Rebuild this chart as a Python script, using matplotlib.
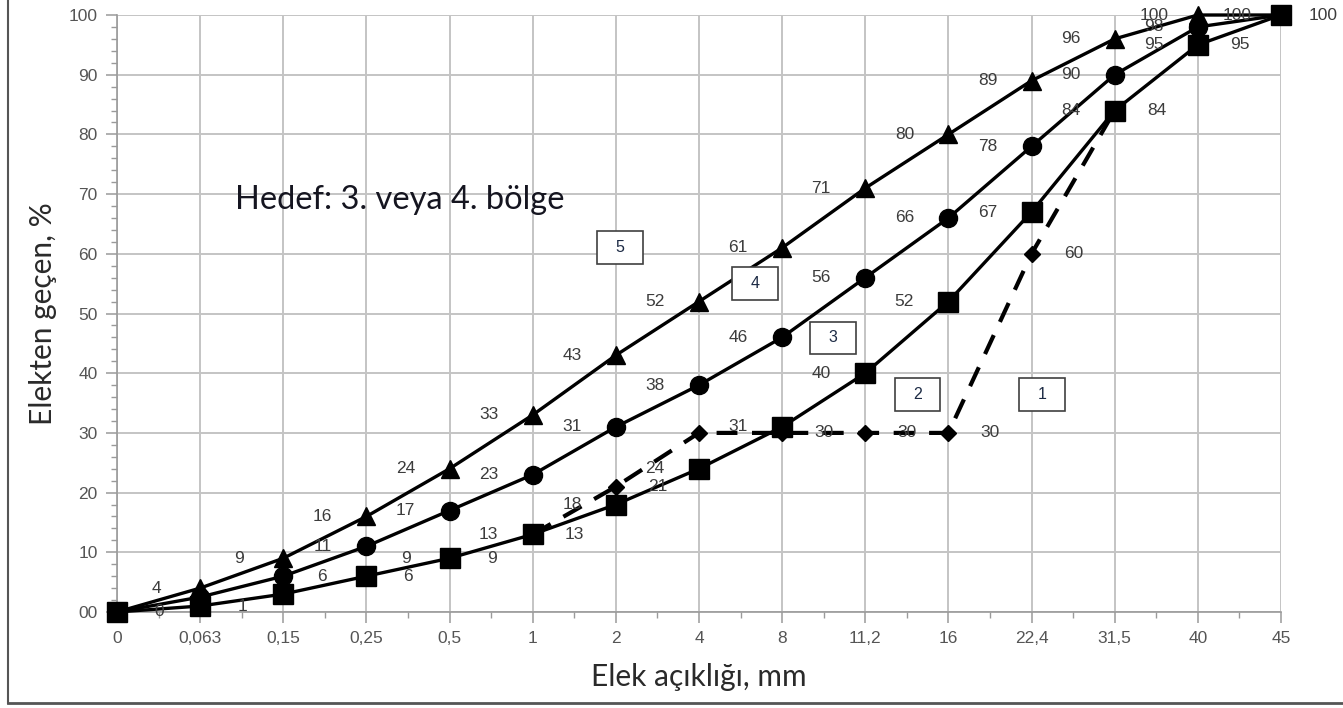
import matplotlib.pyplot as plt
from matplotlib.lines import Line2D
from matplotlib.patches import Rectangle
from matplotlib.ticker import MultipleLocator

# ---------- data ----------
sieve_labels = ['0', '0,063', '0,15', '0,25', '0,5', '1', '2', '4', '8',
                '11,2', '16', '22,4', '31,5', '40', '45']
zone4 = [0, 4, 9, 16, 24, 33, 43, 52, 61, 71, 80, 89, 96, 100, 100]      # triangles
zone3 = [0, 2.5, 6, 11, 17, 23, 31, 38, 46, 56, 66, 78, 90, 98, 100]     # circles
zone2 = [0, 1, 3, 6, 9, 13, 18, 24, 31, 40, 52, 67, 84, 95, 100]        # squares
zone1_idx = [5, 6, 7, 8, 9, 10, 11, 12]                                  # dashed, diamonds
zone1 = [13, 21, 30, 30, 30, 30, 60, 84]

# which side the value labels sit on (L, R, LR or '')
zone4_sides = ['', 'L', 'L', 'L', 'L', 'L', 'L', 'L', 'L', 'L', 'L', 'L', 'L', 'L', '']
zone3_sides = ['', '', '', 'L', 'L', 'L', 'L', 'L', 'L', 'L', 'L', 'L', 'L', 'L', 'L']
zone2_sides = ['R', 'R', '', 'LR', 'LR', 'LR', 'L', 'L', 'L', 'L', 'L', 'L', 'LR', 'LR', 'R']
zone1_sides = ['', 'R', '', 'R', 'R', 'R', 'R', '']

zone_names = ['5', '4', '3', '2', '1']
zone_box_x = [6.05, 7.67, 8.61, 9.63, 11.13]
zone_box_y = [61, 55, 45.9, 36.5, 36.5]

x = list(range(len(sieve_labels)))

# ---------- figure ----------
fig = plt.figure(figsize=(13.43, 7.08), dpi=100)
ax = fig.add_axes([0.0871, 0.1356, 0.8667, 0.8432])

ax.set_xlim(0, len(sieve_labels) - 1)
ax.set_ylim(0, 100)
ax.set_xticks(x)
ax.set_xticklabels(sieve_labels)
ax.xaxis.set_minor_locator(MultipleLocator(0.5))
ax.yaxis.set_major_locator(MultipleLocator(10))
ax.yaxis.set_minor_locator(MultipleLocator(2))
ax.set_yticklabels(['00' if v == 0 else str(int(v)) for v in ax.get_yticks()])

ax.grid(True, which='major', color='#c4c4c4', lw=1.4)
ax.set_axisbelow(True)
for s in ['top', 'right']:
    ax.spines[s].set_visible(False)
for s in ['left', 'bottom']:
    ax.spines[s].set_color('#9a9a9a')
    ax.spines[s].set_linewidth(1.2)
ax.tick_params(which='major', length=8, color='#9a9a9a', width=1.1,
               labelsize=12.5, labelcolor='#555555', pad=6)
ax.tick_params(which='minor', length=4, color='#9a9a9a', width=1)
for lab in ax.get_xticklabels() + ax.get_yticklabels():
    lab.set_family('Liberation Sans')

lw = 2.4
ax.plot(x, zone4, color='black', lw=lw, marker='^', ms=13, clip_on=False, zorder=4)
ax.plot(x, zone3, color='black', lw=lw, marker='o', ms=13, clip_on=False, zorder=4)
ax.plot(x, zone2, color='black', lw=lw, marker='s', ms=15, clip_on=False, zorder=5)
ax.plot(zone1_idx, zone1, color='black', lw=lw + 0.6, ls=(0, (5, 3.5)),
        marker='D', ms=8, clip_on=False, zorder=3)


def value_labels(xs, ys, sides):
    for xi, yi, side in zip(xs, ys, sides):
        txt = str(int(round(yi)))
        for s in side:
            dx = -44 if s == 'L' else 42
            ax.annotate(txt, (xi, yi), xytext=(dx, 0), textcoords='offset pixels',
                        ha='center', va='center', fontsize=12.5, color='#3c3c3c',
                        family='Liberation Sans', zorder=6,
                        annotation_clip=False)


value_labels(x, zone4, zone4_sides)
value_labels(x, zone3, zone3_sides)
value_labels(x, zone2, zone2_sides)
value_labels(zone1_idx, zone1, zone1_sides)

# zone number boxes
bw, bh = 0.55, 5.5
for name, bx, by in zip(zone_names, zone_box_x, zone_box_y):
    ax.add_patch(Rectangle((bx - bw / 2, by - bh / 2), bw, bh, fc='white',
                           ec='#404040', lw=1.2, zorder=6))
    ax.text(bx, by, name, ha='center', va='center', fontsize=11.5,
            color='#1c2a44', family='Liberation Sans', zorder=7)

ax.text(1.42, 69, 'Hedef: 3. veya 4. bölge', ha='left', va='center',
        fontsize=23.5, color='#151520', family='Lato', zorder=7)

ax.set_xlabel('Elek açıklığı, mm', fontsize=21.5, color='#2a2a2a',
              family='Lato', labelpad=12)
ax.set_ylabel('Elekten geçen, %', fontsize=21.5, color='#2a2a2a',
              family='Lato', labelpad=8)

# thin frame round the picture
fig.add_artist(Line2D([0.006, 0.006], [0.007, 1.0], color='#555555', lw=1.5))
fig.add_artist(Line2D([0.006, 1.0], [0.007, 0.007], color='#555555', lw=2))

fig.savefig('out.png', dpi=100)
